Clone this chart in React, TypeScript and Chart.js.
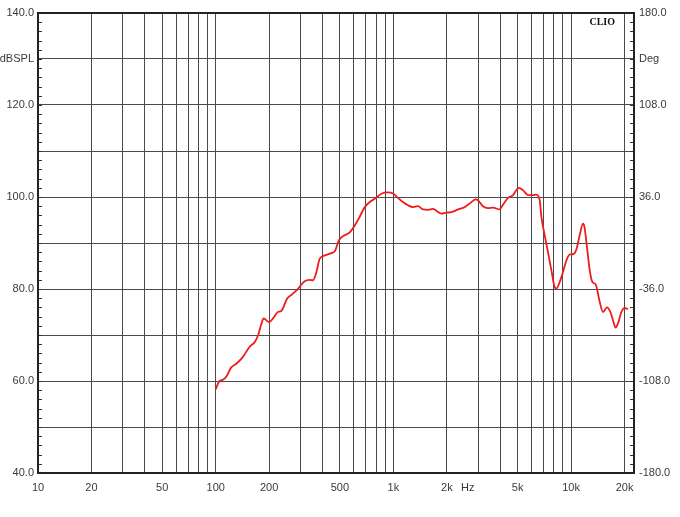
import React, { useEffect, useRef } from "react";
import { Chart, registerables } from "chart.js";

Chart.register(...registerables);

// Frequency response
const freqHz = [
  100, 105, 110, 115, 122, 131, 142, 155, 166, 173, 181, 186, 200, 210, 224, 234,
  252, 262, 272, 285, 317, 338, 353, 369, 385, 411, 438, 468, 494, 521, 568, 606,
  646, 690, 736, 785, 856, 932, 1000, 1062, 1132, 1208, 1289, 1375, 1468, 1565,
  1671, 1746, 1862, 1987, 2121, 2310, 2519, 2688, 2905, 2992, 3193, 3407, 3635,
  3964, 4139, 4416, 4712, 4922, 5090, 5362, 5721, 6104, 6378, 6659, 6805, 7102,
  7413, 7745, 8085, 8263, 8627, 9004, 9410, 9818, 10300, 10710, 11180, 11670,
  11890, 12290, 12730, 13180, 13760, 14490, 15120, 15920, 16640, 17210, 17820,
  18360, 19190, 20030, 20900,
];
const splDb = [
  58.2, 60.0, 60.3, 61.0, 62.9, 63.8, 65.2, 67.4, 68.5, 69.9, 72.5, 73.6, 72.8, 73.6, 75.0, 75.2,
  77.9, 78.5, 79.0, 79.7, 81.7, 82.0, 81.9, 83.7, 86.6, 87.3, 87.7, 88.2, 90.6, 91.5, 92.3, 93.8,
  95.7, 97.8, 98.9, 99.6, 100.7, 101.0, 100.7, 99.8, 98.9, 98.2, 97.8, 98.0, 97.3, 97.2,
  97.4, 97.0, 96.4, 96.6, 96.7, 97.3, 97.8, 98.6, 99.5, 99.3, 98.0, 97.6, 97.7,
  97.3, 98.3, 99.8, 100.4, 101.5, 102.0, 101.5, 100.4, 100.4, 100.5, 99.3, 95.7, 91.7,
  88.0, 84.1, 80.4, 80.1, 81.5, 83.7, 86.2, 87.5, 87.6, 88.6, 91.7, 94.2,
  93.5, 89.1, 84.1, 81.5, 81.0, 77.2, 75.0, 76.0, 75.0, 73.2, 71.6,
  72.5, 75.0, 75.9, 75.6,
];

// Axis definitions
const xMin = 10;
const xMax = 22600;
const xGridValues = [
  10, 20, 30, 40, 50, 60, 70, 80, 90,
  100, 200, 300, 400, 500, 600, 700, 800, 900,
  1000, 2000, 3000, 4000, 5000, 6000, 7000, 8000, 9000,
  10000, 20000,
];
const hzUnitPos = 2620;
const hzUnitLabel = "Hz";
const xTickLabels: Record<number, string> = {
  10: "10", 20: "20", 50: "50", 100: "100", 200: "200", 500: "500",
  1000: "1k", 2000: "2k", 5000: "5k", 10000: "10k", 20000: "20k",
};
const splMin = 40;
const splMax = 140;
const splStep = 10;
const splMinorStep = 2;
const leftTickLabels: Record<number, string> = {
  140: "140.0", 130: "dBSPL", 120: "120.0", 100: "100.0", 80: "80.0", 60: "60.0", 40: "40.0",
};
const degMin = -180;
const degMax = 180;
const degStep = 36;
const rightTickLabels: Record<number, string> = {
  180: "180.0", 144: "Deg", 108: "108.0", 36: "36.0", [-36]: "-36.0", [-108]: "-108.0", [-180]: "-180.0",
};
const brandText = "CLIO";

const gridColor = "#4a4a4a";
const frameColor = "#222222";
const labelColor = "#3a3a3a";
const curveColor = "#ee1c1c";

const framePlugin = {
  id: "clioFrame",
  afterDraw(chart: any) {
    const { ctx, chartArea } = chart;
    const { left, right, top, bottom } = chartArea;
    const y = chart.scales.y;
    ctx.save();
    // minor ticks inside on both vertical axes
    ctx.strokeStyle = "#333";
    ctx.lineWidth = 1;
    ctx.beginPath();
    for (let v = splMin; v <= splMax; v += splMinorStep) {
      const py = Math.round(y.getPixelForValue(v)) + 0.5;
      ctx.moveTo(left, py);
      ctx.lineTo(left + 4, py);
      ctx.moveTo(right - 4, py);
      ctx.lineTo(right, py);
    }
    ctx.stroke();
    // frame
    ctx.strokeStyle = frameColor;
    ctx.lineWidth = 2;
    ctx.strokeRect(left, top, right - left, bottom - top);
    // brand
    ctx.fillStyle = "#111";
    ctx.font = "bold 10px 'Liberation Serif', 'DejaVu Serif', serif";
    ctx.textAlign = "right";
    ctx.textBaseline = "middle";
    ctx.fillText(brandText, right - 19, top + 9);
    ctx.restore();
  },
};

export default function App() {
  const canvasRef = useRef<HTMLCanvasElement | null>(null);

  useEffect(() => {
    if (!canvasRef.current) return;
    const fontFamily = "'Liberation Sans', Arial, sans-serif";
    const chart = new Chart(canvasRef.current, {
      type: "line",
      data: {
        datasets: [
          {
            data: freqHz.map((f, i) => ({ x: f, y: splDb[i] })),
            borderColor: curveColor,
            borderWidth: 1.8,
            pointRadius: 0,
            fill: false,
            cubicInterpolationMode: "monotone",
            yAxisID: "y",
          },
        ],
      },
      options: {
        animation: false,
        responsive: true,
        maintainAspectRatio: false,
        layout: { padding: { top: 13, left: 0, right: 0, bottom: 0 } },
        plugins: { legend: { display: false }, tooltip: { enabled: false } },
        scales: {
          x: {
            type: "logarithmic",
            min: xMin,
            max: xMax,
            afterBuildTicks: (scale: any) => {
              scale.ticks = [...xGridValues, hzUnitPos]
                .sort((a, b) => a - b)
                .map((v) => ({ value: v }));
            },
            afterFit: (scale: any) => {
              scale.height = 44;
            },
            border: { display: false },
            grid: {
              drawTicks: false,
              color: (ctx: any) => (ctx.tick && ctx.tick.value === hzUnitPos ? "rgba(0,0,0,0)" : gridColor),
              lineWidth: 1,
            },
            ticks: {
              autoSkip: false,
              maxRotation: 0,
              minRotation: 0,
              padding: 8,
              color: labelColor,
              font: { family: fontFamily, size: 11 },
              callback: (value: any) => {
                const v = Number(value);
                if (v === hzUnitPos) return hzUnitLabel;
                return xTickLabels[v] ?? "";
              },
            },
          },
          y: {
            type: "linear",
            position: "left",
            min: splMin,
            max: splMax,
            afterFit: (scale: any) => {
              scale.width = 38;
            },
            border: { display: false },
            grid: { drawTicks: false, color: gridColor, lineWidth: 1 },
            ticks: {
              stepSize: splStep,
              padding: 4,
              color: labelColor,
              font: { family: fontFamily, size: 11 },
              callback: (value: any) => leftTickLabels[Number(value)] ?? "",
            },
          },
          y2: {
            type: "linear",
            position: "right",
            min: degMin,
            max: degMax,
            afterFit: (scale: any) => {
              scale.width = 46;
            },
            border: { display: false },
            grid: { drawTicks: false, drawOnChartArea: false },
            ticks: {
              stepSize: degStep,
              padding: 5,
              color: labelColor,
              font: { family: fontFamily, size: 11 },
              callback: (value: any) => rightTickLabels[Number(value)] ?? "",
            },
          },
        },
      },
      plugins: [framePlugin],
    } as any);
    return () => chart.destroy();
  }, []);

  return (
    <div style={{ position: "absolute", left: 0, top: 0, width: 680, height: 517, background: "#fff" }}>
      <canvas ref={canvasRef} />
    </div>
  );
}
